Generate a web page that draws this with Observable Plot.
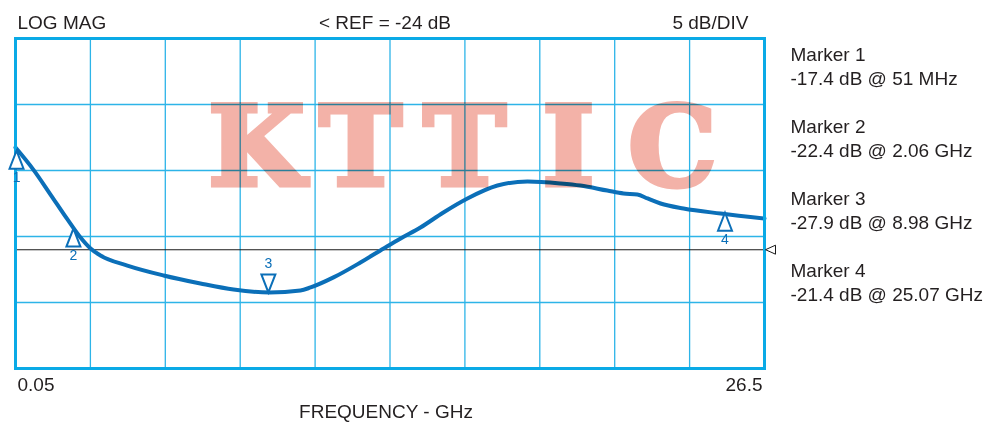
<!DOCTYPE html>
<html>
<head>
<meta charset="utf-8">
<script src="https://cdn.jsdelivr.net/npm/d3@7"></script>
<script src="https://cdn.jsdelivr.net/npm/@observablehq/plot@0.6"></script>
<style>
  html, body { margin: 0; padding: 0; background: #ffffff; }
  #chart svg { display: block; }
</style>
</head>
<body>
<div id="chart"></div>
<script>
// ---- Data ----
const traceFreqGHz = [0.05, 0.686, 1.286, 1.886, 2.345, 2.70, 3.05, 4.0, 5.28, 6.58, 7.75, 9.02, 10.11, 10.47, 11.28, 12.23, 13.05, 13.65, 14.35, 15.16, 16.01, 17.07, 18.13, 19.3, 20.0, 20.95, 21.52, 22.01, 22.37, 22.83, 23.64, 24.95, 26.5];
const traceDb = [-16.26, -17.95, -19.82, -21.71, -23.08, -23.91, -24.44, -25.2, -25.95, -26.56, -27.02, -27.24, -27.09, -26.86, -26.1, -24.97, -23.91, -23.15, -22.32, -21.18, -20.12, -19.14, -18.83, -18.98, -19.14, -19.52, -19.74, -19.82, -20.12, -20.5, -20.88, -21.26, -21.64];

const markerIds = ["1", "2", "3", "4"];
const markerFreqGHz = [0.051, 2.06, 8.98, 25.07];
const markerTraceDb = [-16.5, -22.4, -27.24, -21.2];
const markerDir = ["up", "up", "down", "up"];
const markerTitles = ["Marker 1", "Marker 2", "Marker 3", "Marker 4"];
const markerReadouts = ["-17.4 dB @ 51 MHz", "-22.4 dB @ 2.06 GHz", "-27.9 dB @ 8.98 GHz", "-21.4 dB @ 25.07 GHz"];

const refDb = -24;
const xDomain = [0.05, 26.5];
const yDomain = [-33, -8];
const xGridTicks = [0.05, 2.695, 5.34, 7.985, 10.63, 13.275, 15.92, 18.565, 21.21, 23.855, 26.5];
const yGridTicks = [-8, -13, -18, -23, -28, -33];
const xTickLabels = ["0.05", "26.5"];
const headerLeft = "LOG MAG";
const headerCenter = "< REF = -24 dB";
const headerRight = "5 dB/DIV";
const xTitle = "FREQUENCY - GHz";
const watermark = "KTTIC";

// ---- Build tables ----
const trace = traceFreqGHz.map((f, i) => ({f, db: traceDb[i]}));
const markers = markerIds.map((id, i) => ({id, f: markerFreqGHz[i], db: markerTraceDb[i], dir: markerDir[i]}));

const blue = "#0b6fb8";
const gridColor = "#2db4e8";
const textColor = "#231f20";
const font = "'Liberation Sans', Arial, Helvetica, sans-serif";

const triUp = {draw(ctx) { ctx.moveTo(0, 0); ctx.lineTo(7, 18); ctx.lineTo(-7, 18); ctx.closePath(); }};
const triDown = {draw(ctx) { ctx.moveTo(0, 0); ctx.lineTo(7, -18); ctx.lineTo(-7, -18); ctx.closePath(); }};
const triLeft = {draw(ctx) { ctx.moveTo(1, 0); ctx.lineTo(11, -4.5); ctx.lineTo(11, 4.5); ctx.closePath(); }};

const txt = {fontFamily: font, fontSize: 19, fill: textColor, style: "letter-spacing:0.75px"};

// watermark letters laid out on an even pitch, like a monospaced slab face
const watermarkMarks = watermark.split("").map((ch, i) => Plot.text([ch], {
  frameAnchor: "top-left", dx: 241 + 104 * i, dy: 146.5, textAnchor: "middle", lineAnchor: "bottom",
  fontFamily: "'DejaVu Serif', serif", fontWeight: "bold", fontSize: 111,
  fill: "#f3b2a8", stroke: "#f3b2a8", strokeWidth: 5, strokeLinejoin: "miter", mixBlendMode: "multiply"
}));

const chart = Plot.plot({
  width: 996,
  height: 423,
  marginLeft: 15,
  marginRight: 232,
  marginTop: 38,
  marginBottom: 55,
  style: {background: "#ffffff", fontFamily: font, overflow: "visible"},
  x: {domain: xDomain, axis: null},
  y: {domain: yDomain, axis: null},
  marks: [
    Plot.ruleX(xGridTicks, {stroke: gridColor, strokeWidth: 1.3}),
    Plot.ruleY(yGridTicks, {stroke: gridColor, strokeWidth: 1.3}),
    Plot.ruleY([refDb], {stroke: "#1a1a1a", strokeWidth: 1.1}),
    Plot.line(trace, {x: "f", y: "db", stroke: blue, strokeWidth: 4, curve: "monotone-x", strokeLinejoin: "round", strokeLinecap: "round"}),
    ...watermarkMarks,
    Plot.frame({stroke: "#0aaae6", strokeWidth: 3}),
    Plot.dot(markers.filter(d => d.dir === "up"), {x: "f", y: "db", dx: 1, symbol: triUp, stroke: blue, strokeWidth: 2, fill: "#ffffff", r: 5}),
    Plot.dot(markers.filter(d => d.dir === "down"), {x: "f", y: "db", symbol: triDown, stroke: blue, strokeWidth: 2, fill: "#ffffff", r: 5}),
    Plot.text(markers.filter(d => d.dir === "up"), {x: "f", y: "db", text: "id", dy: 27, dx: 1, lineAnchor: "middle", fill: blue, fontSize: 14, fontFamily: font}),
    Plot.text(markers.filter(d => d.dir === "down"), {x: "f", y: "db", text: "id", dy: -29, lineAnchor: "middle", fill: blue, fontSize: 14, fontFamily: font}),
    Plot.dot([refDb], {x: () => xDomain[1], y: d => d, symbol: triLeft, stroke: "#1a1a1a", strokeWidth: 1, fill: "#ffffff", r: 5}),
    // header
    Plot.text([headerLeft], {frameAnchor: "top-left", dx: 2, dy: -10, textAnchor: "start", lineAnchor: "bottom", ...txt}),
    Plot.text([headerCenter], {frameAnchor: "top", dx: -5, dy: -10, textAnchor: "middle", lineAnchor: "bottom", ...txt}),
    Plot.text([headerRight], {frameAnchor: "top-right", dx: -16, dy: -10, textAnchor: "end", lineAnchor: "bottom", ...txt}),
    // x tick labels and title
    Plot.text([xTickLabels[0]], {frameAnchor: "bottom-left", dx: 2, dy: 22, textAnchor: "start", lineAnchor: "bottom", ...txt}),
    Plot.text([xTickLabels[1]], {frameAnchor: "bottom-right", dx: -2, dy: 22, textAnchor: "end", lineAnchor: "bottom", ...txt}),
    Plot.text([xTitle], {frameAnchor: "bottom", dx: -4, dy: 49, textAnchor: "middle", lineAnchor: "bottom", ...txt}),
    // marker readouts on the right
    ...markerTitles.map((t, i) => Plot.text([t + "\n" + markerReadouts[i]], {
      frameAnchor: "top-right", dx: 26, dy: 5 + 72 * i, textAnchor: "start", lineAnchor: "top", lineHeight: 24 / 19, ...txt
    }))
  ]
});
document.getElementById("chart").appendChild(chart);
</script>
</body>
</html>
